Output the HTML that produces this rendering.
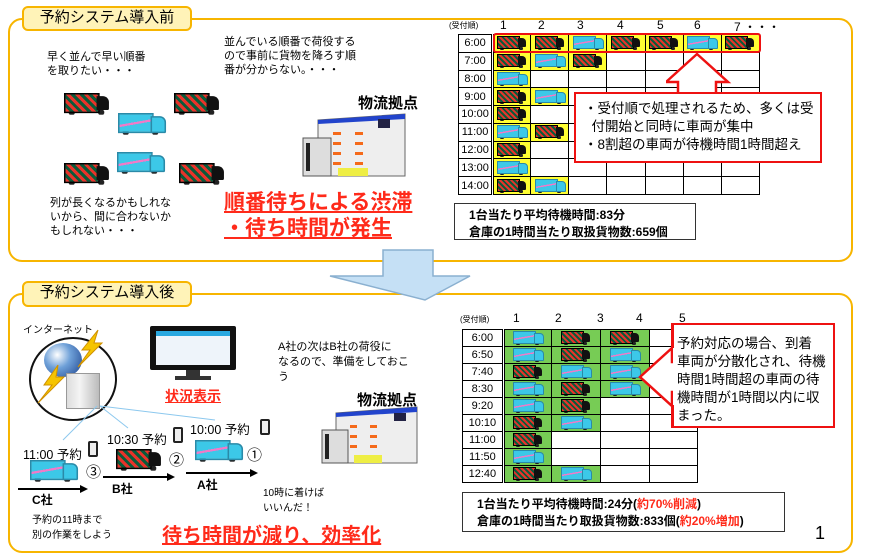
<!DOCTYPE html>
<html><head><meta charset="utf-8"><style>
*{margin:0;padding:0;box-sizing:border-box}
body{width:872px;height:556px;background:#fff;position:relative;overflow:hidden;font-family:"Liberation Sans","Noto Sans CJK JP",sans-serif;color:#000}
.a{position:absolute;white-space:nowrap}
.panel{position:absolute;border:2.5px solid #f7b500;border-radius:14px}
.lbl{position:absolute;background:#fff3b8;border:2.5px solid #f7b500;border-radius:6px;font-size:15px;text-align:center;line-height:20px}
table{border-collapse:collapse;position:absolute}
td{border:1px solid #000;padding:0;text-align:center;font-size:11px;position:relative}
td.h{border-right:3px double #000}
.y{background:#ffff33}.g{background:#77cc55}
.t{display:inline-block;position:relative;width:30px;height:14px;vertical-align:middle;background:radial-gradient(circle at 5px 12.5px,#222 1.8px,transparent 2.2px),radial-gradient(circle at 24px 12.5px,#222 1.8px,transparent 2.2px)}
.t::before{content:"";position:absolute;left:0;top:0;width:21px;height:11px;border:1px solid #000}
.t::after{content:"";position:absolute;left:21px;top:2px;width:8px;height:9px;border-radius:0 4px 1px 0}
.t.d::before{background:repeating-linear-gradient(45deg,#e8332a 0 2px,#0a5a3a 2px 4px)}
.t.d::after{background:#111}
.t.l::before{background:linear-gradient(170deg,#3cc8e8 0 45%,#f07ac8 45% 55%,#3cc8e8 55%);border-color:#2a8aa8}
.t.l::after{background:#3cc8e8;border:1px solid #2a8aa8}
.big{transform-origin:0 0;transform:scale(1.55);position:absolute}
.red{color:#ff2a1a;font-weight:bold;text-decoration:underline}
.box{position:absolute;border:1.5px solid #333;font-weight:bold;font-size:12px;line-height:17px;padding:3px 0 0 14px}
.ph{position:absolute;width:10px;height:16px;border:2px solid #222;border-radius:2px;background:#eee}
</style></head><body>

<div class="panel" style="left:8px;top:18px;width:845px;height:244px"></div>
<div class="lbl" style="left:22px;top:6px;width:170px;height:25px">予約システム導入前</div>
<div class="panel" style="left:8px;top:293px;width:845px;height:260px"></div>
<div class="lbl" style="left:22px;top:281px;width:170px;height:26px">予約システム導入後</div>

<svg class="a" style="left:320px;top:248px" width="160" height="56"><polygon points="63,2 113,2 113,28 150,28 105,52 10,28 63,28" fill="#c5e0f5" stroke="#8ab0d0" stroke-width="1.5"/></svg>

<div class="a" style="left:47px;top:50px;font-size:11px;line-height:14px">早く並んで早い順番<br>を取りたい・・・</div>
<div class="a" style="left:224px;top:35px;font-size:11px;line-height:14px">並んでいる順番で荷役する<br>ので事前に貨物を降ろす順<br>番が分からない。・・・</div>
<div class="a" style="left:50px;top:196px;font-size:11px;line-height:14px">列が長くなるかもしれな<br>いから、間に合わないか<br>もしれない・・・</div>
<span class="t d big" style="left:64px;top:93px"></span>
<span class="t d big" style="left:174px;top:93px"></span>
<span class="t d big" style="left:64px;top:163px"></span>
<span class="t d big" style="left:179px;top:163px"></span>
<span class="t l big" style="left:118px;top:113px"></span>
<span class="t l big" style="left:117px;top:152px"></span>
<div class="a" style="left:358px;top:92px;font-size:15px;font-weight:bold">物流拠点</div>
<svg class="a" style="left:300px;top:110px" width="110" height="70">
<polygon points="18,10 105,4 105,66 18,66" fill="#eee" stroke="#666"/><polygon points="18,10 105,4 105,9 18,14" fill="#2244cc"/>
<rect x="78" y="9" width="12" height="9" fill="#224" /><g fill="#f56a1a"><rect x="33" y="22" width="8" height="3"/><rect x="33" y="32" width="8" height="3"/><rect x="33" y="42" width="8" height="3"/><rect x="33" y="52" width="8" height="3"/><rect x="55" y="22" width="8" height="3"/><rect x="55" y="32" width="8" height="3"/><rect x="55" y="42" width="8" height="3"/><rect x="55" y="52" width="8" height="3"/></g>
<rect x="3" y="28" width="28" height="38" fill="#ddd" stroke="#555"/><rect x="6" y="33" width="4" height="28" fill="#222"/><rect x="38" y="58" width="30" height="8" fill="#ee4"/></svg>
<div class="a red" style="left:224px;top:190px;font-size:21px;line-height:26px">順番待ちによる渋滞<br>・待ち時間が発生</div>

<div class="a" style="left:449px;top:20px;font-size:8px">(受付順)</div>
<div class="a" style="left:500px;top:18px;font-size:12px">1</div><div class="a" style="left:538px;top:18px;font-size:12px">2</div><div class="a" style="left:577px;top:18px;font-size:12px">3</div><div class="a" style="left:617px;top:18px;font-size:12px">4</div><div class="a" style="left:657px;top:18px;font-size:12px">5</div><div class="a" style="left:694px;top:18px;font-size:12px">6</div><div class="a" style="left:734px;top:18px;font-size:12px">7 ・・・</div>
<table style="left:458px;top:34px;width:302px;height:161px">
<colgroup><col style="width:34px"><col span="7" style="width:38px"></colgroup>
<tr><td class="h">6:00</td><td class="y"><i class="t d"></i></td><td class="y"><i class="t d"></i></td><td class="y"><i class="t l"></i></td><td class="y"><i class="t d"></i></td><td class="y"><i class="t d"></i></td><td class="y"><i class="t l"></i></td><td class="y"><i class="t d"></i></td></tr>
<tr><td class="h">7:00</td><td class="y"><i class="t d"></i></td><td class="y"><i class="t l"></i></td><td class="y"><i class="t d"></i></td><td></td><td></td><td></td><td></td></tr>
<tr><td class="h">8:00</td><td class="y"><i class="t l"></i></td><td></td><td></td><td></td><td></td><td></td><td></td></tr>
<tr><td class="h">9:00</td><td class="y"><i class="t d"></i></td><td class="y"><i class="t l"></i></td><td></td><td></td><td></td><td></td><td></td></tr>
<tr><td class="h">10:00</td><td class="y"><i class="t d"></i></td><td></td><td></td><td></td><td></td><td></td><td></td></tr>
<tr><td class="h">11:00</td><td class="y"><i class="t l"></i></td><td class="y"><i class="t d"></i></td><td></td><td></td><td></td><td></td><td></td></tr>
<tr><td class="h">12:00</td><td class="y"><i class="t d"></i></td><td></td><td></td><td></td><td></td><td></td><td></td></tr>
<tr><td class="h">13:00</td><td class="y"><i class="t l"></i></td><td></td><td></td><td></td><td></td><td></td><td></td></tr>
<tr><td class="h">14:00</td><td class="y"><i class="t d"></i></td><td class="y"><i class="t l"></i></td><td></td><td></td><td></td><td></td><td></td></tr>
</table>
<div class="a" style="left:493px;top:33px;width:268px;height:20px;border:2.5px solid #ee1111;border-radius:3px"></div>
<svg class="a" style="left:666px;top:52px" width="66" height="44"><polygon points="31,2 62,30 50,30 50,44 12,44 12,30 0,30" fill="#fff" stroke="#ee1111" stroke-width="2.5"/></svg>
<div class="a" style="left:574px;top:92px;width:248px;height:71px;background:#fff;border:2.5px solid #ee1111;font-size:13.5px;line-height:18px;padding:6px 0 0 8px">・受付順で処理されるため、多くは受<br>&nbsp;&nbsp;付開始と同時に車両が集中<br>・8割超の車両が待機時間1時間超え</div>
<div class="box" style="left:454px;top:203px;width:242px;height:37px">1台当たり平均待機時間:83分<br>倉庫の1時間当たり取扱貨物数:659個</div>

<div class="a" style="left:23px;top:321px;font-size:10px">インターネット</div>
<div class="a" style="left:29px;top:337px;width:88px;height:84px;border:2.5px solid #111;border-radius:50%"></div>
<div class="a" style="left:44px;top:343px;width:38px;height:34px;border-radius:50%;background:radial-gradient(circle at 35% 35%,#fff,#6ea0d8 40%,#1a3f8a)"></div>
<div class="a" style="left:66px;top:373px;width:34px;height:36px;background:linear-gradient(90deg,#ddd,#f4f4f4 40%,#bbb);border:1px solid #999"></div>
<svg class="a" style="left:30px;top:325px" width="80" height="80"><polygon points="68,5 52,25 60,25 48,42 72,18 64,18" fill="#f5c400" stroke="#d09000"/><polygon points="28,40 14,60 22,60 8,78 34,52 26,52" fill="#f5c400" stroke="#d09000"/></svg>
<svg class="a" style="left:0;top:400px" width="230" height="60"><g stroke="#8cc8ee" stroke-width="1"><line x1="97" y1="6" x2="63" y2="40"/><line x1="100" y1="6" x2="128" y2="28"/><line x1="100" y1="6" x2="215" y2="20"/></g></svg>
<div class="a" style="left:150px;top:326px;width:86px;height:44px;background:#111;border-radius:2px;padding:5px 6px"><div style="width:100%;height:100%;background:#eef4fa;border-top:5px solid #29a8e0"></div></div>
<div class="a" style="left:186px;top:370px;width:14px;height:7px;background:#333"></div><div class="a" style="left:175px;top:376px;width:36px;height:4px;background:#333"></div>
<div class="a red" style="left:165px;top:386px;font-size:14px">状況表示</div>
<div class="a" style="left:278px;top:340px;font-size:11px;line-height:15px">A社の次はB社の荷役に<br>なるので、準備をしておこ<br>う</div>
<div class="a" style="left:357px;top:389px;font-size:15px;font-weight:bold">物流拠点</div>
<svg class="a" style="left:320px;top:405px" width="100" height="60">
<polygon points="16,8 97,2 97,58 16,58" fill="#eee" stroke="#666"/><polygon points="16,8 97,2 97,7 16,12" fill="#2244cc"/>
<rect x="74" y="8" width="12" height="8" fill="#224"/><g fill="#f56a1a"><rect x="30" y="20" width="7" height="3"/><rect x="30" y="30" width="7" height="3"/><rect x="30" y="40" width="7" height="3"/><rect x="50" y="20" width="7" height="3"/><rect x="50" y="30" width="7" height="3"/><rect x="50" y="40" width="7" height="3"/></g>
<rect x="2" y="25" width="26" height="33" fill="#ddd" stroke="#555"/><rect x="5" y="29" width="4" height="25" fill="#222"/><rect x="34" y="50" width="28" height="8" fill="#ee4"/></svg>

<div class="a" style="left:23px;top:444px;font-size:12.5px">11:00 予約</div><div class="ph" style="left:88px;top:441px"></div>
<span class="t l big" style="left:30px;top:460px"></span><div class="a" style="left:86px;top:461px;font-size:15px">③</div>
<svg class="a" style="left:18px;top:484px" width="72" height="10"><line x1="0" y1="5" x2="64" y2="5" stroke="#000" stroke-width="2"/><polygon points="62,1 70,5 62,9"/></svg>
<div class="a" style="left:32px;top:491px;font-size:12px;font-weight:bold">C社</div>
<div class="a" style="left:107px;top:429px;font-size:12.5px">10:30 予約</div><div class="ph" style="left:173px;top:427px"></div>
<span class="t d big" style="left:116px;top:449px"></span><div class="a" style="left:169px;top:449px;font-size:15px">②</div>
<svg class="a" style="left:103px;top:472px" width="74" height="10"><line x1="0" y1="5" x2="66" y2="5" stroke="#000" stroke-width="2"/><polygon points="64,1 72,5 64,9"/></svg>
<div class="a" style="left:112px;top:480px;font-size:12px;font-weight:bold">B社</div>
<div class="a" style="left:190px;top:419px;font-size:12.5px">10:00 予約</div><div class="ph" style="left:260px;top:419px"></div>
<span class="t l big" style="left:195px;top:440px"></span><div class="a" style="left:247px;top:444px;font-size:15px">①</div>
<svg class="a" style="left:186px;top:468px" width="74" height="10"><line x1="0" y1="5" x2="66" y2="5" stroke="#000" stroke-width="2"/><polygon points="64,1 72,5 64,9"/></svg>
<div class="a" style="left:197px;top:476px;font-size:12px;font-weight:bold">A社</div>
<div class="a" style="left:263px;top:486px;font-size:10px;line-height:15px">10時に着けば<br>いいんだ！</div>
<div class="a" style="left:32px;top:513px;font-size:10px;line-height:15px">予約の11時まで<br>別の作業をしよう</div>
<div class="a red" style="left:162px;top:519px;font-size:20px">待ち時間が減り、効率化</div>

<div class="a" style="left:460px;top:314px;font-size:8px">(受付順)</div>
<div class="a" style="left:513px;top:311px;font-size:12px">1</div><div class="a" style="left:555px;top:311px;font-size:12px">2</div><div class="a" style="left:597px;top:311px;font-size:12px">3</div><div class="a" style="left:636px;top:311px;font-size:12px">4</div><div class="a" style="left:679px;top:311px;font-size:12px">5</div>
<table style="left:462px;top:329px;width:236px;height:154px">
<colgroup><col style="width:41px"><col span="4" style="width:49px"></colgroup>
<tr><td class="h">6:00</td><td class="g"><i class="t l"></i></td><td class="g"><i class="t d"></i></td><td class="g"><i class="t d"></i></td><td></td></tr>
<tr><td class="h">6:50</td><td class="g"><i class="t l"></i></td><td class="g"><i class="t d"></i></td><td class="g"><i class="t l"></i></td><td></td></tr>
<tr><td class="h">7:40</td><td class="g"><i class="t d"></i></td><td class="g"><i class="t l"></i></td><td class="g"><i class="t l"></i></td><td></td></tr>
<tr><td class="h">8:30</td><td class="g"><i class="t l"></i></td><td class="g"><i class="t d"></i></td><td class="g"><i class="t l"></i></td><td></td></tr>
<tr><td class="h">9:20</td><td class="g"><i class="t l"></i></td><td class="g"><i class="t d"></i></td><td></td><td></td></tr>
<tr><td class="h">10:10</td><td class="g"><i class="t d"></i></td><td class="g"><i class="t l"></i></td><td></td><td></td></tr>
<tr><td class="h">11:00</td><td class="g"><i class="t d"></i></td><td></td><td></td><td></td></tr>
<tr><td class="h">11:50</td><td class="g"><i class="t l"></i></td><td></td><td></td><td></td></tr>
<tr><td class="h">12:40</td><td class="g"><i class="t d"></i></td><td class="g"><i class="t l"></i></td><td></td><td></td></tr>
</table>
<svg class="a" style="left:638px;top:346px" width="40" height="64"><polygon points="2,31 34,2 34,16 40,16 40,46 34,46 34,60" fill="#fff" stroke="#ee1111" stroke-width="2.5"/></svg>
<div class="a" style="left:673px;top:323px;width:162px;height:105px;background:#fff;border:2.5px solid #ee1111;border-left:none;font-size:13.5px;line-height:18px;padding:10px 0 0 4px">予約対応の場合、到着<br>車両が分散化され、待機<br>時間1時間超の車両の待<br>機時間が1時間以内に収<br>まった。</div>
<div class="a" style="left:671px;top:323px;width:3px;height:25px;background:#ee1111"></div><div class="a" style="left:671px;top:405px;width:3px;height:23px;background:#ee1111"></div>
<div class="box" style="left:462px;top:492px;width:323px;height:40px">1台当たり平均待機時間:24分(<span style="color:#ff2a1a">約70%削減</span>)<br>倉庫の1時間当たり取扱貨物数:833個(<span style="color:#ff2a1a">約20%増加</span>)</div>
<div class="a" style="left:815px;top:523px;font-size:18px">1</div>
</body></html>
